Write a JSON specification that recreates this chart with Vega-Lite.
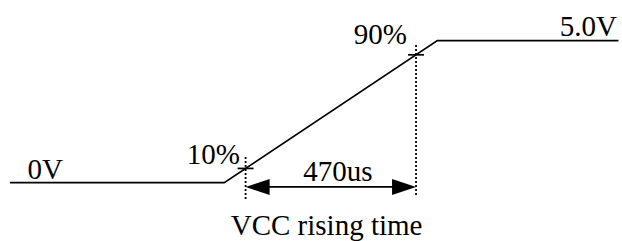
{
  "$schema": "https://vega.github.io/schema/vega-lite/v6.json",
  "width": 622,
  "height": 241,
  "padding": 0,
  "autosize": {"type": "fit", "contains": "padding"},
  "background": "white",
  "config": {"view": {"stroke": null}},
  "datasets": {
    "signal": [
      {"t": -591, "v": 0},
      {"t": 0, "v": 0},
      {"t": 587.5, "v": 5},
      {"t": 1087, "v": 5}
    ],
    "markers": [
      {"t": 58.75, "v1": 0.9, "v2": -0.59},
      {"t": 528.75, "v1": 4.85, "v2": -0.48}
    ],
    "ticks": [
      {"t1": 36.75, "t2": 80.75, "v": 0.5},
      {"t1": 506.75, "t2": 550.75, "v": 4.5}
    ],
    "span": [
      {"t1": 70, "t2": 517, "v": -0.15}
    ],
    "headsL": [{"t": 58.75, "v": -0.15}],
    "headsR": [{"t": 528.75, "v": -0.15}],
    "labels": [
      {"t": -494, "v": 0.12, "label": "0V"},
      {"t": -30, "v": 0.64, "label": "10%"},
      {"t": 430, "v": 4.87, "label": "90%"},
      {"t": 1004, "v": 5.16, "label": "5.0V"},
      {"t": 313, "v": 0.05, "label": "470us"},
      {"t": 282, "v": -1.84, "label": "VCC rising time"}
    ]
  },
  "layer": [
    {
      "data": {"name": "signal"},
      "mark": {"type": "line", "color": "black", "strokeWidth": 1.7},
      "encoding": {
        "x": {"field": "t", "type": "quantitative", "scale": {"domain": [-618.5, 1091.2], "nice": false, "zero": false}, "axis": null},
        "y": {"field": "v", "type": "quantitative", "scale": {"domain": [-2.02, 6.43], "nice": false, "zero": false}, "axis": null}
      }
    },
    {
      "data": {"name": "markers"},
      "mark": {"type": "rule", "color": "black", "strokeWidth": 1.8, "strokeDash": [2, 2]},
      "encoding": {
        "x": {"field": "t", "type": "quantitative"},
        "y": {"field": "v1", "type": "quantitative"},
        "y2": {"field": "v2"}
      }
    },
    {
      "data": {"name": "ticks"},
      "mark": {"type": "rule", "color": "black", "strokeWidth": 1.7},
      "encoding": {
        "x": {"field": "t1", "type": "quantitative"},
        "x2": {"field": "t2"},
        "y": {"field": "v", "type": "quantitative"}
      }
    },
    {
      "data": {"name": "span"},
      "mark": {"type": "rule", "color": "black", "strokeWidth": 1.7},
      "encoding": {
        "x": {"field": "t1", "type": "quantitative"},
        "x2": {"field": "t2"},
        "y": {"field": "v", "type": "quantitative"}
      }
    },
    {
      "data": {"name": "headsL"},
      "mark": {"type": "point", "filled": true, "color": "black", "opacity": 1, "size": 576, "shape": "M 0 0 L 2 -0.667 L 2 0.667 Z"},
      "encoding": {
        "x": {"field": "t", "type": "quantitative"},
        "y": {"field": "v", "type": "quantitative"}
      }
    },
    {
      "data": {"name": "headsR"},
      "mark": {"type": "point", "filled": true, "color": "black", "opacity": 1, "size": 576, "shape": "M 0 0 L -2 -0.667 L -2 0.667 Z"},
      "encoding": {
        "x": {"field": "t", "type": "quantitative"},
        "y": {"field": "v", "type": "quantitative"}
      }
    },
    {
      "data": {"name": "labels"},
      "mark": {"type": "text", "font": "Liberation Serif", "fontSize": 29, "color": "black", "align": "center", "baseline": "alphabetic"},
      "encoding": {
        "x": {"field": "t", "type": "quantitative"},
        "y": {"field": "v", "type": "quantitative"},
        "text": {"field": "label", "type": "nominal"}
      }
    }
  ]
}
